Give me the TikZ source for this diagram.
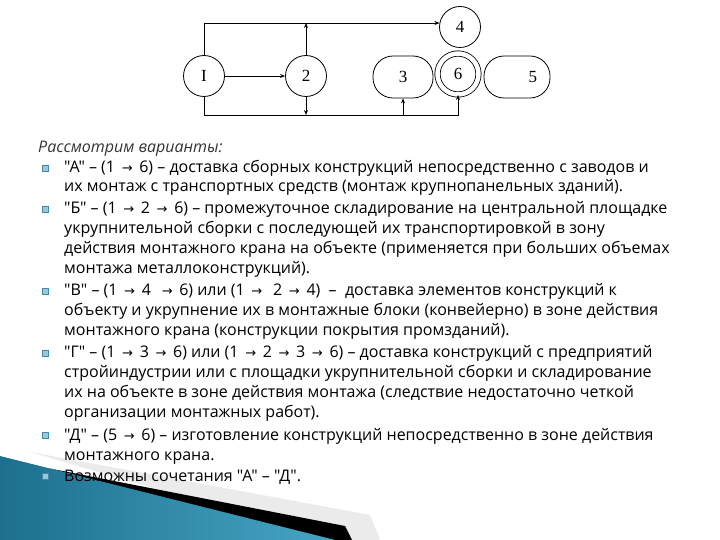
\documentclass[tikz,border=0pt]{standalone}
\usepackage{fontspec}
\setmainfont{Open Sans}[Ligatures=TeXOff]
\newfontfamily\arrfont{DejaVu Sans}
\newfontfamily\digfont{Liberation Serif}
\usetikzlibrary{positioning,arrows.meta,calc}

\newcommand{\ar}{\hspace{2.5pt}{\arrfont\fontsize{13}{13}\selectfont →}\hspace{2.5pt}}

\definecolor{slideblue}{RGB}{28,112,142}
\definecolor{slidelight}{RGB}{70,165,195}
\definecolor{bulletfill}{RGB}{150,200,220}
\definecolor{bulletline}{RGB}{70,135,165}

\tikzset{
	stage/.style={circle, draw, line width=0.8pt, minimum size=41pt, inner sep=0pt,
		font=\digfont\fontsize{17}{17}\selectfont},
	yard/.style={rectangle, rounded corners=20pt, draw, line width=0.8pt,
		minimum width=60pt, minimum height=42pt, inner sep=0pt,
		font=\digfont\fontsize{17}{17}\selectfont},
	flow/.style={line width=0.8pt, -{Stealth[length=5pt,width=4pt]}},
	link/.style={line width=0.8pt},
	mark box/.style={rectangle, draw=bulletline, fill=bulletfill, line width=0.6pt,
		minimum size=6pt, inner sep=0pt},
	% base anchor of a multi-line node sits on its last line
	item/.style={anchor=base west, align=left, inner sep=0pt,
		font=\fontsize{16}{19.7}\selectfont}
}

\begin{document}
\begin{tikzpicture}[x=1pt, y=-1pt]

	\useasboundingbox[fill=white] (0,0) rectangle (720,540);

	\def\xT{64}
	\def\xB{45}

	% corner decoration
	\fill[black!8] (30,452) -- (370,515) -- (380,540) -- (330,540) -- cycle;
	\fill[black] (50,468.5) -- (345,526) -- (352,540) -- (320,540) -- cycle;
	\shade[left color=slideblue, right color=slidelight]
		(0,456) -- (335,540) -- (0,540) -- cycle;

	% stages
	\node[stage] (n1) at (204,76) {I};
	\node[stage] (n2) at (306,76) {2};
	\node[yard] (n3) at (403,77) {3};
	\node[stage, double, double distance=4.5pt] (n6) at (458,74) {6};
	\node[stage] (n4) at (460,27) {4};
	\node[yard, minimum width=66pt, text width=40pt, align=right] (n5) at (517,77) {5};

	\coordinate (low) at (0,115);

	% connections
	\draw[flow] (n1.north) |- (n4.169);
	\draw[flow] (n2.north) -- (n2.north |- n4.169);
	\draw[flow] (n1) -- (n2);
	\draw[flow] (n1.south) |- (low -| n6.south) -- (n6.south);
	\draw[flow] (n2.south) -- (n2.south |- low);
	\draw[flow] (n3.south |- low) -- (n3.south);

	% text
	\node[anchor=base west, inner sep=0pt, font=\itshape\fontsize{16}{19.7}\selectfont,
		text=black!80] (title) at (38,153) {Рассмотрим варианты:};

	\foreach \y/\nm in {168/a, 209/b, 291/c, 353/d, 435/e, 476/f}
		\node[mark box] (m\nm) at (\xB,\y) {};

	\node[item] (ta) at (\xT,192) {"А" – (1 \ar\ 6) – доставка сборных конструкций непосредственно с заводов и\\
		их монтаж с транспортных средств (монтаж крупнопанельных зданий).};
	\node[item] (tb) at (\xT,273) {"Б" – (1 \ar\ 2 \ar\ 6) – промежуточное складирование на центральной площадке\\
		укрупнительной сборки с последующей их транспортировкой в зону\\
		действия монтажного крана на объекте (применяется при больших объемах\\
		монтажа металлоконструкций).};
	\node[item] (tc) at (\xT,335) {"В" – (1 \ar\ 4 \ \ar\ 6) или (1 \ar\ \ 2 \ar\ 4) \ – \ доставка элементов конструкций к\\
		объекту и укрупнение их в монтажные блоки (конвейерно) в зоне действия\\
		монтажного крана (конструкции покрытия промзданий).};
	\node[item] (td) at (\xT,417) {"Г" – (1 \ar\ 3 \ar\ 6) или (1 \ar\ 2 \ar\ 3 \ar\ 6) – доставка конструкций с предприятий\\
		стройиндустрии или с площадки укрупнительной сборки и складирование\\
		их на объекте в зоне действия монтажа (следствие недостаточно четкой\\
		организации монтажных работ).};
	\node[item] (te) at (\xT,460) {"Д" – (5 \ar\ 6) – изготовление конструкций непосредственно в зоне действия\\
		монтажного крана.};
	\node[item] (tf) at (\xT,481) {Возможны сочетания "А" – "Д".};

\end{tikzpicture}
\end{document}
